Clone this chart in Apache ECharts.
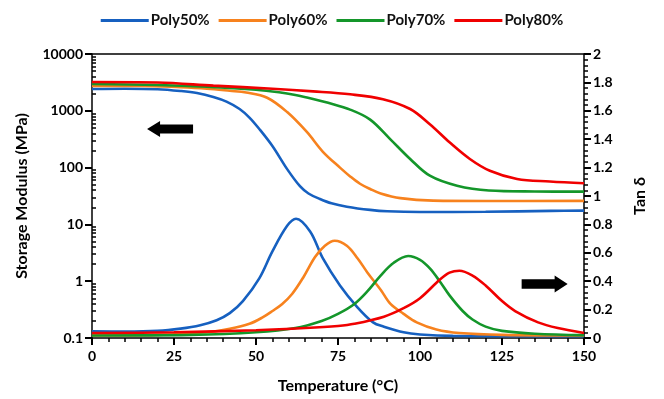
<!DOCTYPE html>
<html>
<head>
<meta charset="utf-8">
<script src="https://cdn.jsdelivr.net/npm/echarts@6/dist/echarts.min.js"></script>
<style>
  html, body { margin: 0; padding: 0; background: #fff; }
  #chart { width: 664px; height: 399px; }
</style>
</head>
<body>
<div id="chart"></div>
<script>
// Datos: modulo de almacenamiento (MPa, escala log) y tan delta
const names = ['Poly50%', 'Poly60%', 'Poly70%', 'Poly80%'];
const colors = ['#1660C0', '#F7821E', '#14962A', '#F00000'];

// Modulo de almacenamiento
const modT50 = [0, 10, 20, 27, 32, 37, 41, 45, 48, 51, 55, 59.5, 63.4, 66, 69.5, 73, 77.7, 84.8, 90, 100, 120, 140, 150];
const mod50 = [2420, 2450, 2400, 2230, 2050, 1750, 1450, 1075, 760, 479, 240, 94, 47, 35, 28, 23.5, 20.5, 18, 17, 16.5, 16.7, 17.3, 17.5];
const modT60 = [0, 15, 27, 35, 42, 47, 53.4, 59.5, 65.5, 70.4, 75.6, 78.7, 81.7, 84.8, 88, 94, 104, 120, 150];
const mod60 = [2750, 2750, 2600, 2450, 2250, 2100, 1700, 950, 424, 190, 100, 70, 52, 42, 35, 29, 26.2, 25.8, 26];
const modT70 = [0, 20, 35, 50, 57, 62, 67.4, 72, 78.7, 84.8, 90.9, 97, 103, 111.3, 121, 135, 150];
const mod70 = [2960, 2850, 2650, 2350, 2120, 1900, 1620, 1380, 1050, 700, 318, 142, 72, 48, 39.6, 38, 37.7];
const modT80 = [0, 20, 37, 55, 67.4, 78.7, 88.7, 97, 103, 109, 115.2, 121.3, 129.6, 139.6, 150];
const mod80 = [3210, 3150, 2770, 2450, 2200, 1950, 1600, 1075, 580, 279, 142, 88, 63, 57, 53];

// Tan delta
const tanT50 = [0, 10, 20, 27, 33, 38, 42, 46, 51, 55, 59.5, 62.2, 66.5, 70.4, 75.6, 80.8, 85.7, 89, 95, 100, 110, 150];
const tan50 = [0.047, 0.045, 0.05, 0.066, 0.09, 0.125, 0.175, 0.26, 0.42, 0.61, 0.79, 0.84, 0.75, 0.56, 0.37, 0.22, 0.11, 0.08, 0.04, 0.025, 0.015, 0.012];
const tanT60 = [0, 20, 35, 42, 48, 52, 55, 58, 61, 64.5, 68, 71, 74, 77.7, 81, 84, 88, 91, 95, 99, 105, 112, 125, 150];
const tan60 = [0.018, 0.022, 0.04, 0.065, 0.1, 0.145, 0.19, 0.24, 0.31, 0.43, 0.57, 0.65, 0.685, 0.65, 0.56, 0.46, 0.34, 0.24, 0.17, 0.11, 0.06, 0.035, 0.022, 0.018];
const tanT70 = [0, 30, 50, 62, 70, 75, 80, 84, 88, 92, 96.4, 100, 103, 106, 109, 113, 116, 120, 125, 135, 150];
const tan70 = [0.018, 0.022, 0.04, 0.07, 0.12, 0.17, 0.24, 0.33, 0.44, 0.53, 0.577, 0.55, 0.49, 0.40, 0.30, 0.19, 0.13, 0.08, 0.05, 0.03, 0.02];
const tanT80 = [0, 25, 50, 65, 75, 80, 89, 95, 100, 106, 109, 112, 116, 120, 125, 129, 136, 142, 150];
const tan80 = [0.035, 0.04, 0.055, 0.07, 0.085, 0.1, 0.15, 0.21, 0.28, 0.41, 0.46, 0.474, 0.44, 0.37, 0.26, 0.19, 0.11, 0.07, 0.035];

// Marcas menores del eje logaritmico (2..9 de cada decada), en log10
const logMinor = [];
[0.1, 1, 10, 100, 1000].forEach(d => {
    for (let k = 2; k <= 9; k++) logMinor.push(Math.log10(d * k));
});

const modT = [modT50, modT60, modT70, modT80];
const modV = [mod50, mod60, mod70, mod80];
const tanT = [tanT50, tanT60, tanT70, tanT80];
const tanV = [tan50, tan60, tan70, tan80];

const pair = (ts, vs) => ts.map((t, i) => [t, vs[i]]);

const font = 'Lato, "Open Sans", sans-serif';
const labelStyle = { color: '#000', fontWeight: 'bold', fontSize: 14, fontFamily: font };
const nameStyle = { color: '#000', fontWeight: 'bold', fontSize: 16, fontFamily: font };
const lineBlack = { show: true, onZero: false, lineStyle: { color: '#000', width: 1.5 } };
const tickBlack = { show: true, length: 7, lineStyle: { color: '#000', width: 2 } };
const minorBlack = { show: true, splitNumber: 5, length: 4, lineStyle: { color: '#000', width: 1.5 } };

const series = [];
names.forEach((n, i) => {
    series.push({
        name: n, type: 'line', yAxisIndex: 0, smooth: 0.35, showSymbol: false, symbol: 'none',
        data: pair(modT[i], modV[i]),
        lineStyle: { color: colors[i], width: 2.6 }, itemStyle: { color: colors[i] },
        z: 3
    });
    series.push({
        name: n, type: 'line', yAxisIndex: 2, smooth: 0.35, showSymbol: false, symbol: 'none',
        data: pair(tanT[i], tanV[i]),
        lineStyle: { color: colors[i], width: 2.6 }, itemStyle: { color: colors[i] },
        z: 3
    });
});

// Flechas indicando el eje de cada familia de curvas
series[0].markPoint = {
    silent: true,
    symbol: 'path://M0,8 L13,0 L13,3.5 L46,3.5 L46,12.5 L13,12.5 L13,16 Z',
    symbolSize: [46, 16],
    itemStyle: { color: '#000' },
    label: { show: false },
    data: [{ coord: [23.8, 480] }]
};
series[7].markPoint = {
    silent: true,
    symbol: 'path://M46,8 L33,0 L33,3.5 L0,3.5 L0,12.5 L33,12.5 L33,16 Z',
    symbolSize: [46, 17],
    itemStyle: { color: '#000' },
    label: { show: false },
    data: [{ coord: [138, 0.38] }]
};

const chart = echarts.init(document.getElementById('chart'), null, { renderer: 'canvas' });
chart.setOption({
    animation: false,
    backgroundColor: '#fff',
    legend: {
        top: 8, left: 'center',
        data: names,
        icon: 'rect', itemWidth: 48, itemHeight: 3, itemGap: 9,
        textStyle: { color: '#111', fontWeight: 'bold', fontSize: 15, fontFamily: font, padding: [0, 0, 0, -3] }
    },
    grid: { left: 92, right: 80, top: 54, bottom: 60 },
    xAxis: [
        {
            type: 'value', min: 0, max: 150, interval: 25,
            name: 'Temperature (°C)', nameLocation: 'middle', nameGap: 40, nameTextStyle: nameStyle,
            axisLine: lineBlack,
            axisTick: tickBlack,
            minorTick: minorBlack,
            axisLabel: Object.assign({ margin: 11 }, labelStyle),
            splitLine: { show: false }, minorSplitLine: { show: false }
        },
        {
            // linea superior del marco
            type: 'value', min: 0, max: 150, position: 'top',
            axisLine: lineBlack,
            axisTick: { show: false }, axisLabel: { show: false }, splitLine: { show: false }
        }
    ],
    yAxis: [
        {
            type: 'log', logBase: 10, min: 0.1, max: 10000, position: 'left',
            name: 'Storage Modulus (MPa)', nameLocation: 'middle', nameGap: 62, nameTextStyle: nameStyle,
            axisLine: lineBlack,
            axisTick: tickBlack,
            axisLabel: Object.assign({ margin: 9, formatter: v => String(+v.toPrecision(3)) }, labelStyle),
            splitLine: { show: false }
        },
        {
            // eje auxiliar en log10 solo para las marcas menores
            type: 'value', min: -1, max: 4, position: 'left', offset: 0,
            axisLine: { show: false, onZero: false },
            axisTick: { show: true, inside: true, length: 4, customValues: logMinor, lineStyle: { color: '#000', width: 1.5 } },
            axisLabel: { show: false },
            splitLine: { show: false }
        },
        {
            type: 'value', min: 0, max: 2, interval: 0.2, position: 'right',
            name: 'Tan δ', nameLocation: 'middle', nameGap: 48, nameTextStyle: nameStyle,
            axisLine: lineBlack,
            axisTick: tickBlack,
            minorTick: minorBlack,
            axisLabel: Object.assign({ margin: 9, formatter: v => String(+v.toFixed(1)) }, labelStyle),
            splitLine: { show: false }, minorSplitLine: { show: false }
        }
    ],
    series: series
});
</script>
</body>
</html>
